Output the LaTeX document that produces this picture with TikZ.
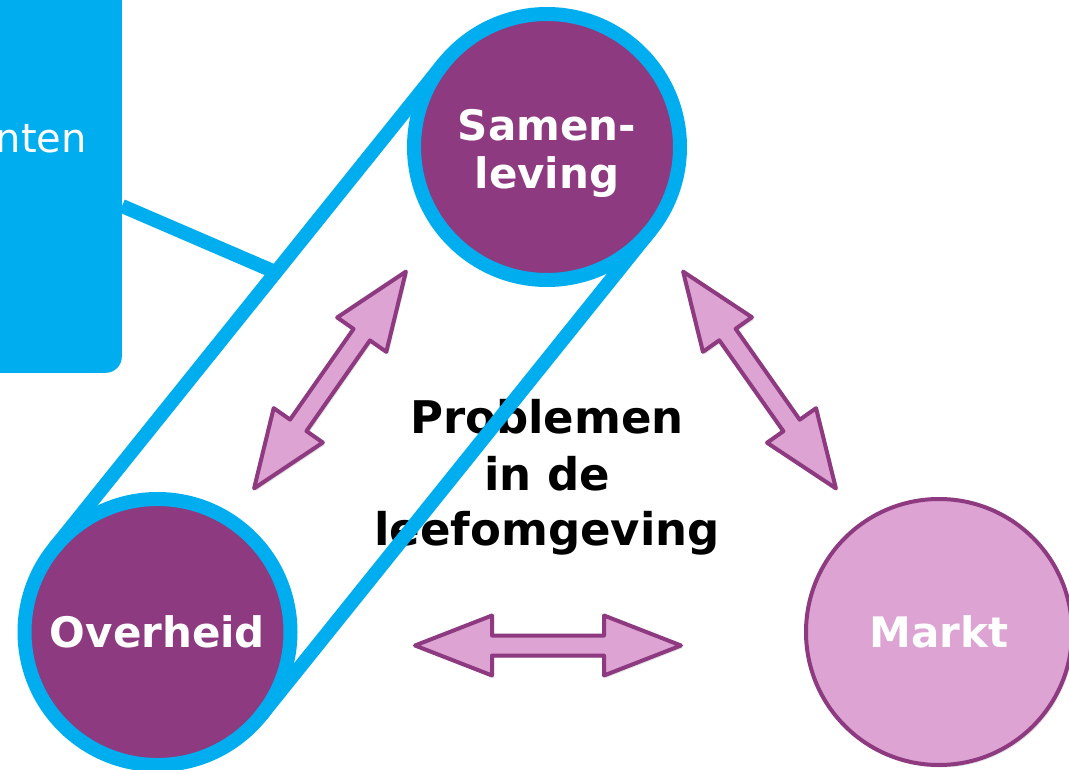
\documentclass[tikz,border=0pt]{standalone}
\usepackage{fontspec}
\setmainfont{DejaVu Sans}
\usetikzlibrary{calc,shadows}
\definecolor{cy}{HTML}{00AEEF}
\definecolor{pdark}{HTML}{8E3A80}
\definecolor{plight}{HTML}{DDA3D2}
\tikzset{
  cyanline/.style={draw=cy, line width=14pt},
  bigcirc/.style={circle, minimum size=266pt, inner sep=0pt, text=white,
    font=\bfseries\fontsize{42}{48}\selectfont, align=center},
  blockarr/.style={fill=plight, draw=pdark, line width=4pt, line join=round,
    drop shadow={opacity=0.22, shadow xshift=2pt, shadow yshift=-2.5pt}},
  centertext/.style={font=\bfseries\fontsize{45}{56}\selectfont, text=black,
    inner sep=0pt, anchor=base},
}
\newcommand\blockarrow[3]{%
  \coordinate (#3p) at ($(#1)!77pt!(#2)$);
  \coordinate (#3q) at ($(#2)!77pt!(#1)$);
  \draw[blockarr] (#1) -- ($(#3p)!30pt!-90:(#2)$) -- ($(#3p)!10pt!-90:(#2)$)
    -- ($(#3q)!10pt!90:(#1)$) -- ($(#3q)!30pt!90:(#1)$) -- (#2)
    -- ($(#3q)!30pt!-90:(#1)$) -- ($(#3q)!10pt!-90:(#1)$)
    -- ($(#3p)!10pt!90:(#2)$) -- ($(#3p)!30pt!90:(#2)$) -- cycle;}
\begin{document}
\begin{tikzpicture}[x=1pt,y=-1pt]
\useasboundingbox (0,0) rectangle (1069,770);
\clip (0,0) rectangle (1069,770);
% blue box
\node[fill=cy, rounded corners=16pt, minimum width=200pt, minimum height=440pt,
  anchor=south east, inner sep=0pt] (box) at (122,373) {};
\node[anchor=base east, inner sep=0pt, text=white,
  font=\fontsize{40}{48}\selectfont] (boxtext) at (87,153) {nten};
% arrows
\coordinate (a1s) at (254.1,488.4); \coordinate (a1e) at (405.9,271.6);
\coordinate (a2s) at (683.1,271.6); \coordinate (a2e) at (835.9,488.4);
\coordinate (a3s) at (415,645.5);   \coordinate (a3e) at (681,645.5);
\blockarrow{a1s}{a1e}{ar1}
\blockarrow{a2s}{a2e}{ar2}
\blockarrow{a3s}{a3e}{ar3}
% centre text
\node[centertext] (pr1) at (547,433) {Problemen};
\node[centertext] (pr2) at (547,490) {in de};
\node[centertext] (pr3) at (547,545) {leefomgeving};
% circles
\node[bigcirc, fill=pdark, draw=cy, line width=14pt] (sam) at (547,147)
  {\rule{0pt}{44pt}Samen-\\leving};
\node[bigcirc, fill=pdark, draw=cy, line width=14pt] (ov) at (157.5,632) {Overheid};
\node[bigcirc, fill=plight, draw=pdark, line width=4pt,
  drop shadow={opacity=0.22, shadow xshift=2pt, shadow yshift=-2.5pt}] (mar) at (939,632) {Markt};
% stadium tangents and connector
\coordinate (t1a) at ($(ov.center)!133pt!90:(sam.center)$);
\coordinate (t1b) at ($(sam.center)!133pt!-90:(ov.center)$);
\coordinate (t2a) at ($(ov.center)!133pt!-90:(sam.center)$);
\coordinate (t2b) at ($(sam.center)!133pt!90:(ov.center)$);
\coordinate (boxport) at (122,206);
\coordinate (joinpt) at ($(t1a)!0.57!(t1b)$);
\draw[cyanline] (boxport) -- (joinpt);
\draw[cyanline] (t1a) -- (t1b);
\draw[cyanline] (t2a) -- (t2b);
\end{tikzpicture}
\end{document}
